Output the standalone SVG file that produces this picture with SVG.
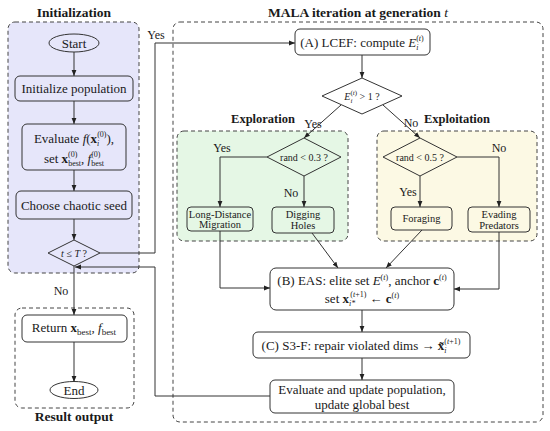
<svg xmlns="http://www.w3.org/2000/svg" width="550" height="431" viewBox="0 0 550 431" font-family="'Liberation Serif', 'DejaVu Serif', serif">
<defs>
<marker id="arr" viewBox="0 0 10 10" refX="10" refY="5" markerWidth="6" markerHeight="6" orient="auto" markerUnits="userSpaceOnUse">
<path d="M0,1 L10,5 L0,9 z" fill="#222"/>
</marker>
<style>
.grp{stroke:#444;stroke-width:1;stroke-dasharray:4,3}
.nd{fill:none;stroke:#333;stroke-width:1}
.ndw{fill:#fff;stroke:#333;stroke-width:1}
text{font-family:'Liberation Serif','DejaVu Serif',serif;fill:#1a1a1a}
.t{font-size:13px;text-anchor:middle}
.s{font-size:10.5px;text-anchor:middle}
.d{font-size:10px;text-anchor:middle}
.lb{font-size:12px;text-anchor:middle}
.h{font-size:13.5px;font-weight:bold;text-anchor:middle}
.h2{font-size:12.5px;font-weight:bold;text-anchor:middle}
.c{fill:none;stroke:#333;stroke-width:1}
</style>
</defs>
<rect width="550" height="431" fill="#fff"/>

<g id="init-group">
<rect class="grp" x="8" y="22" width="131" height="251" rx="7" fill="#e6e6fa"/>
<text class="h" x="74" y="17">Initialization</text>
</g>
<g id="result-group">
<rect class="grp" x="15" y="308" width="119" height="100" rx="7" fill="none"/>
<text class="h" x="74" y="421">Result output</text>
</g>
<g id="mala-group">
<rect class="grp" x="173" y="22" width="370" height="400" rx="7" fill="none"/>
<text class="h" x="358" y="17">MALA iteration at generation <tspan font-style="italic" font-weight="normal">t</tspan></text>
</g>
<g id="exploration-group">
<rect class="grp" x="177" y="131" width="171" height="110" rx="7" fill="#e5f7e5"/>
<text class="h2" x="263" y="123">Exploration</text>
</g>
<g id="exploitation-group">
<rect class="grp" x="377" y="131" width="160" height="110" rx="7" fill="#fcf9e4"/>
<text class="h2" x="457" y="123">Exploitation</text>
</g>

<g id="connectors">
<line class="c" x1="74" y1="52" x2="74" y2="76" marker-end="url(#arr)"/>
<line class="c" x1="74" y1="101" x2="74" y2="124" marker-end="url(#arr)"/>
<line class="c" x1="74" y1="170" x2="74" y2="191" marker-end="url(#arr)"/>
<line class="c" x1="74" y1="219" x2="74" y2="240" marker-end="url(#arr)"/>
<polyline class="c" points="100,253 155,253 155,43 295,43" marker-end="url(#arr)"/>
<text class="lb" x="156" y="39">Yes</text>
<line class="c" x1="74" y1="266" x2="74" y2="315" marker-end="url(#arr)"/>
<text class="lb" x="61" y="295">No</text>
<line class="c" x1="74" y1="342" x2="74" y2="382" marker-end="url(#arr)"/>
<polyline class="c" points="270,396 155,396 155,267 75,267" marker-end="url(#arr)"/>
<line class="c" x1="362" y1="55" x2="362" y2="78" marker-end="url(#arr)"/>
<line class="c" x1="341" y1="105" x2="304" y2="138" marker-end="url(#arr)"/>
<text class="lb" x="313" y="128">Yes</text>
<line class="c" x1="383" y1="105" x2="420" y2="138" marker-end="url(#arr)"/>
<text class="lb" x="411" y="127">No</text>
<polyline class="c" points="267,157 220,157 220,207" marker-end="url(#arr)"/>
<text class="lb" x="222" y="152">Yes</text>
<line class="c" x1="304" y1="176" x2="304" y2="207" marker-end="url(#arr)"/>
<text class="lb" x="291" y="197">No</text>
<polyline class="c" points="457,157 499,157 499,207" marker-end="url(#arr)"/>
<text class="lb" x="499" y="152">No</text>
<line class="c" x1="420" y1="176" x2="420" y2="207" marker-end="url(#arr)"/>
<text class="lb" x="408" y="196">Yes</text>
<polyline class="c" points="220,231 220,288 270,288" marker-end="url(#arr)"/>
<line class="c" x1="312" y1="233" x2="338" y2="268" marker-end="url(#arr)"/>
<line class="c" x1="422" y1="230" x2="386" y2="268" marker-end="url(#arr)"/>
<polyline class="c" points="499,232 499,289 454,289" marker-end="url(#arr)"/>
<line class="c" x1="362" y1="310" x2="362" y2="332" marker-end="url(#arr)"/>
<line class="c" x1="362" y1="358" x2="362" y2="380" marker-end="url(#arr)"/>
</g>

<g id="start">
<ellipse class="nd" cx="74" cy="43" rx="25" ry="9"/>
<text class="t" x="74" y="47.5">Start</text>
</g>
<g id="init-pop">
<rect class="nd" x="15" y="76" width="118" height="25" rx="5"/>
<text class="t" x="74" y="93">Initialize population</text>
</g>
<g id="evaluate">
<rect class="nd" x="22" y="124" width="104" height="46" rx="5"/>
<text class="t" x="74" y="143">Evaluate <tspan font-style="italic">f</tspan>(<tspan font-weight="bold">x</tspan><tspan font-size="8" dy="3" font-style="italic">i</tspan><tspan font-size="8" dx="-2.2" dy="-9">(0)</tspan><tspan dy="6">),</tspan></text>
<text class="t" x="74" y="163">set <tspan font-weight="bold">x</tspan><tspan font-size="8" dy="-6">(0)</tspan><tspan font-size="8" dx="-9.3" dy="9">best</tspan><tspan dy="-3">, </tspan><tspan font-style="italic">f</tspan><tspan font-size="8" dy="-6">(0)</tspan><tspan font-size="8" dx="-9.3" dy="9">best</tspan></text>
</g>
<g id="chaotic-seed">
<rect class="nd" x="16" y="191" width="116" height="28" rx="5"/>
<text class="t" x="74" y="209.5">Choose chaotic seed</text>
</g>
<g id="check-t">
<polygon class="nd" points="74,240 100,253 74,266 48,253"/>
<text class="d" x="74" y="257"><tspan font-style="italic">t</tspan> ≤ <tspan font-style="italic">T</tspan> ?</text>
</g>
<g id="return">
<rect class="nd" x="22" y="315" width="105" height="27" rx="5"/>
<text class="t" x="74" y="332">Return <tspan font-weight="bold">x</tspan><tspan font-size="9" dy="3">best</tspan><tspan dy="-3">, </tspan><tspan font-style="italic">f</tspan><tspan font-size="9" dy="3">best</tspan></text>
</g>
<g id="end">
<ellipse class="nd" cx="74" cy="390" rx="24" ry="8.5"/>
<text class="t" x="74" y="394.5">End</text>
</g>
<g id="lcef">
<rect class="ndw" x="295" y="29" width="135" height="26" rx="5"/>
<text class="t" x="362" y="47">(A) LCEF: compute <tspan font-style="italic">E</tspan><tspan font-size="8" dy="3" font-style="italic">i</tspan><tspan font-size="8" dx="-2.2" dy="-9">(<tspan font-style="italic">t</tspan>)</tspan></text>
</g>
<g id="check-e">
<polygon class="ndw" points="362,78 402,96 362,114 322,96"/>
<text class="d" x="362" y="100"><tspan font-style="italic">E</tspan><tspan font-size="7" dy="3" font-style="italic">i</tspan><tspan font-size="7" dx="-2" dy="-8">(<tspan font-style="italic">t</tspan>)</tspan><tspan dy="5"> &gt; 1 ?</tspan></text>
</g>
<g id="rand03">
<polygon class="nd" points="304,138 341,157 304,176 267,157"/>
<text class="d" x="304" y="161">rand &lt; 0.3 ?</text>
</g>
<g id="rand05">
<polygon class="nd" points="420,138 457,157 420,176 383,157"/>
<text class="d" x="420" y="161">rand &lt; 0.5 ?</text>
</g>
<g id="long-distance">
<rect class="nd" x="187" y="207" width="66" height="24" rx="4"/>
<text class="s" x="220" y="217.5">Long-Distance</text>
<text class="s" x="220" y="228">Migration</text>
</g>
<g id="digging">
<rect class="nd" x="272" y="207" width="62" height="26" rx="4"/>
<text class="s" x="303" y="218">Digging</text>
<text class="s" x="303" y="229">Holes</text>
</g>
<g id="foraging">
<rect class="nd" x="391" y="207" width="61" height="23" rx="4"/>
<text class="s" x="421.5" y="222">Foraging</text>
</g>
<g id="evading">
<rect class="nd" x="468" y="207" width="62" height="25" rx="4"/>
<text class="s" x="499" y="217.5">Evading</text>
<text class="s" x="499" y="228.5">Predators</text>
</g>
<g id="eas">
<rect class="ndw" x="270" y="268" width="184" height="42" rx="6"/>
<text class="t" x="362" y="285">(B) EAS: elite set <tspan font-style="italic">E</tspan><tspan font-size="8" dy="-5">(<tspan font-style="italic">t</tspan>)</tspan><tspan dy="5">, anchor </tspan><tspan font-weight="bold">c</tspan><tspan font-size="8" dy="-5">(<tspan font-style="italic">t</tspan>)</tspan></text>
<text class="t" x="362" y="303">set <tspan font-weight="bold">x</tspan><tspan font-size="8" dy="3" font-style="italic">i*</tspan><tspan font-size="8" dx="-5" dy="-9">(<tspan font-style="italic">t</tspan>+1)</tspan><tspan dy="6"> ← </tspan><tspan font-weight="bold">c</tspan><tspan font-size="8" dy="-5">(<tspan font-style="italic">t</tspan>)</tspan></text>
</g>
<g id="s3f">
<rect class="ndw" x="253" y="332" width="217" height="26" rx="5"/>
<text class="t" x="361" y="350">(C) S3-F: repair violated dims → <tspan font-weight="bold">x̃</tspan><tspan font-size="8" dy="3" font-style="italic">i</tspan><tspan font-size="8" dx="-2.2" dy="-9">(<tspan font-style="italic">t</tspan>+1)</tspan></text>
</g>
<g id="eval-update">
<rect class="ndw" x="270" y="380" width="184" height="33" rx="5"/>
<text class="t" x="362" y="394">Evaluate and update population,</text>
<text class="t" x="362" y="409">update global best</text>
</g>
</svg>
